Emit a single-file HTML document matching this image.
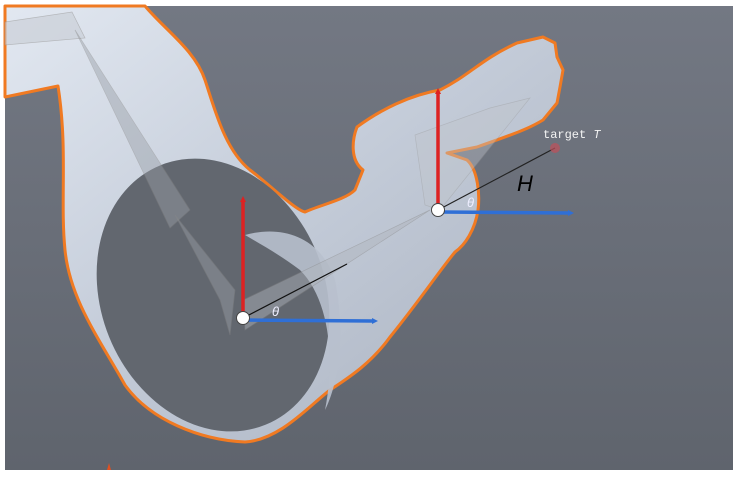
<!DOCTYPE html>
<html><head><meta charset="utf-8"><style>
html,body{margin:0;padding:0;background:#fff;width:740px;height:478px;overflow:hidden}
</style></head><body>
<svg width="740" height="478" viewBox="0 0 740 478" xmlns="http://www.w3.org/2000/svg">
<defs>
<linearGradient id="sk" x1="0" y1="0" x2="1" y2="1">
<stop offset="0" stop-color="#e2e8f1"/><stop offset="0.5" stop-color="#c3cbd8"/><stop offset="1" stop-color="#a8b0be"/>
</linearGradient>
<linearGradient id="bg" x1="0" y1="0" x2="0" y2="1">
<stop offset="0" stop-color="#737883"/><stop offset="1" stop-color="#5f646d"/>
</linearGradient>
</defs>
<rect x="5" y="6" width="728" height="464" fill="url(#bg)"/>
<path d="M5,6 L145,6 C165,30 195,50 205,80 C215,110 225,150 250,170 C270,185 295,210 305,212 C320,205 345,200 355,190 L363,170 C350,160 352,140 357,127 C380,110 410,95 440,90 C470,75 480,60 517,43 L543,37 555,43 557,57 563,70 560,87 557,103 543,120 C530,128 517,133 477,147 L447,153 467,160 C478,170 480,195 478,210 C475,230 465,245 455,252 C440,270 420,300 390,337 C370,365 345,380 330,390 C310,405 280,440 245,442 C200,440 150,420 125,385 C100,340 70,300 65,250 C60,200 68,150 58,86 L5,97 Z" fill="url(#sk)" stroke="#f07a22" stroke-width="3" stroke-linejoin="round"/>
<ellipse cx="213" cy="295" rx="112" ry="140" transform="rotate(-22 213 295)" fill="#62676f"/>
<path d="M245,235 C280,225 320,235 335,280 C345,330 340,380 325,410 C335,360 330,300 300,270 C280,255 262,245 245,235Z" fill="#b8c0cd" opacity="0.9"/>
<!-- bones -->
<polygon points="5,22 72,12 85,38 5,45" fill="#c8cdd5" opacity="0.6" stroke="#999" stroke-width="0.7"/>
<polygon points="75,30 190,210 170,228" fill="#9aa0a8" opacity="0.45" stroke="#888" stroke-width="0.7"/>
<polygon points="175,215 235,290 230,335 220,300" fill="#9aa0a8" opacity="0.45" stroke="#888" stroke-width="0.7"/>
<polygon points="243,300 430,210 245,330" fill="#b0b5bd" opacity="0.45" stroke="#888" stroke-width="0.7"/>
<polygon points="415,135 490,108 530,98 440,210 425,205" fill="#c0c5cc" opacity="0.4" stroke="#999" stroke-width="0.7"/>
<!-- target lines -->
<line x1="243" y1="318" x2="347" y2="264" stroke="#111" stroke-width="1.2"/>
<line x1="438" y1="210" x2="555" y2="148" stroke="#222" stroke-width="1.2"/>
<circle cx="555" cy="148" r="5" fill="#c0505a" opacity="0.7"/>
<!-- axes -->
<line x1="243" y1="318" x2="243" y2="200" stroke="#d22" stroke-width="3.5"/>
<polygon points="240,202 243,196 246,202" fill="#d22"/>
<line x1="243" y1="320" x2="372" y2="321" stroke="#2f6fd6" stroke-width="3.5"/>
<polygon points="372,318 378,321 372,324" fill="#2f6fd6"/>
<line x1="438" y1="210" x2="438" y2="92" stroke="#d22" stroke-width="3.5"/>
<polygon points="435,94 438,88 441,94" fill="#d22"/>
<line x1="438" y1="212" x2="568" y2="213" stroke="#2f6fd6" stroke-width="3.5"/>
<polygon points="568,210 574,213 568,216" fill="#2f6fd6"/>
<circle cx="243" cy="318" r="6.5" fill="#fff" stroke="#444" stroke-width="1"/>
<circle cx="438" cy="210" r="6.5" fill="#fff" stroke="#444" stroke-width="1"/>
<text x="272" y="316" font-family="Liberation Sans, sans-serif" font-style="italic" font-size="13" fill="#eef">θ</text>
<text x="467" y="207" font-family="Liberation Sans, sans-serif" font-style="italic" font-size="13" fill="#eef">θ</text>
<text x="517" y="191" font-family="Liberation Sans, sans-serif" font-style="italic" font-size="22" fill="#000">H</text>
<text x="543" y="138" font-family="Liberation Mono, monospace" font-size="12" fill="#f4f4f4">target <tspan font-style="italic">T</tspan></text>
<path d="M107,470 L109,463 L111,470Z" fill="#e05020"/>
</svg>
</body></html>
